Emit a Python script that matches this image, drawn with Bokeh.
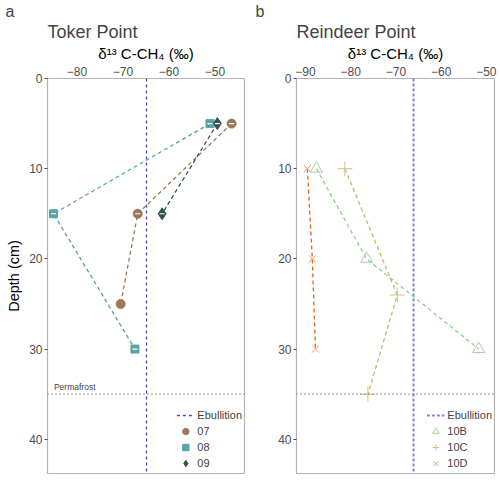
import numpy as np
from bokeh.plotting import figure
from bokeh.layouts import row
from bokeh.models import (Range1d, Span, Label, Title, Legend, LegendItem, FixedTicker)
from bokeh.embed import file_html
from bokeh.resources import INLINE

# ---------------- data ----------------
depth_07 = [5, 15, 25]
d13c_07 = [-46.4, -66.8, -70.5]
depth_08 = [5, 15, 30]
d13c_08 = [-51.1, -85.1, -67.4]
depth_09 = [5, 15]
d13c_09 = [-49.5, -61.5]

depth_10B = [10, 20, 30]
d13c_10B = [-87.6, -76.5, -51.7]
depth_10C = [10, 24, 35]
d13c_10C = [-81.3, -69.7, -76.2]
depth_10D = [10, 20, 30]
d13c_10D = [-89.6, -88.5, -87.8]

ebullition_a = [-65.0]
ebullition_b = [-66.1]
permafrost_depth = 35

xticks_a = [-80, -70, -60, -50]
xticks_b = [-90, -80, -70, -60, -50]
yticks = [0, 10, 20, 30, 40]

FONT = "Liberation Sans"
XLABEL = "δ¹³ C-CH₄ (‰)"
HEIGHT = 481


def base_fig(width, xr, xticks, border_left, border_right, title, letter, ylabel):
    p = figure(width=width, height=HEIGHT, output_backend="svg", toolbar_location=None,
               x_range=Range1d(*xr), y_range=Range1d(43.8, 0),
               x_axis_location="above",
               min_border_left=border_left, min_border_right=border_right,
               min_border_top=78, min_border_bottom=8)
    p.grid.visible = False
    p.outline_line_color = "#B3B3B3"
    p.outline_line_width = 1.2
    p.background_fill_color = "white"
    p.border_fill_color = "white"
    for ax in (p.xaxis[0], p.yaxis[0]):
        ax.axis_line_color = None
        ax.minor_tick_line_color = None
        ax.major_label_text_color = "#4D4D4D"
        ax.major_label_text_font = FONT
        ax.major_label_text_font_size = "12px"
        ax.axis_label_text_font = FONT
        ax.axis_label_text_font_style = "normal"
        ax.axis_label_text_color = "black"
        ax.axis_label_text_font_size = "14.5px"
        ax.major_label_standoff = 3
        ax.axis_label_standoff = 2
    p.xaxis.ticker = FixedTicker(ticks=xticks)
    p.xaxis.major_tick_line_color = None
    p.xaxis.major_tick_out = 0
    p.xaxis.major_tick_in = 0
    p.xaxis.axis_label = XLABEL
    p.xaxis.axis_label_text_font_size = "15px"
    p.yaxis.ticker = FixedTicker(ticks=yticks)
    p.yaxis.major_tick_line_color = "#4D4D4D"
    p.yaxis.major_tick_out = 3
    p.yaxis.major_tick_in = 0
    p.yaxis.major_label_standoff = 2
    if ylabel:
        p.yaxis.axis_label = ylabel
        p.yaxis.axis_label_standoff = 4
    # outer line: panel letter
    p.title.text = letter
    p.title.text_font = FONT
    p.title.text_font_size = "16px"
    p.title.text_font_style = "normal"
    p.title.align = "left"
    p.title.offset = -(border_left - 5)
    p.title.standoff = 0
    # inner line: site title
    t = Title(text=title, text_font=FONT, text_font_size="18px", text_font_style="normal",
              align="left", standoff=0)
    p.add_layout(t, "above")
    p.add_layout(Span(location=permafrost_depth, dimension="width", line_color="#555555",
                      line_dash="1 3", line_width=1.2))
    return p


def style_legend(p, items):
    leg = Legend(items=items, location="bottom_right")
    leg.background_fill_alpha = 0
    leg.border_line_color = None
    leg.label_text_font = FONT
    leg.label_text_font_size = "11px"
    leg.label_height = 14
    leg.glyph_height = 16
    leg.glyph_width = 18
    leg.spacing = 0
    leg.padding = 0
    leg.margin = 2
    leg.label_standoff = 3
    p.add_layout(leg)


# ---------------- panel a ----------------
pa = base_fig(250, (-86.4, -43.6), xticks_a, 47, 6, "Toker Point", "a", "Depth (cm)")
eb_a = pa.vspan(x=ebullition_a, line_color="#4646C4", line_dash="3 3", line_width=1.3)

c07, c08, c09 = "#9C7A55", "#5BA4A6", "#2E5454"
pa.line(d13c_07, depth_07, line_color=c07, line_dash="4 3", line_width=1.3)
pa.line(d13c_08, depth_08, line_color=c08, line_dash="4 3", line_width=1.3)
pa.line(d13c_09, depth_09, line_color=c09, line_dash="4 3", line_width=1.3)
r07 = pa.scatter(d13c_07, depth_07, marker="circle", size=9, fill_color=c07, line_color=c07)
r08 = pa.scatter(d13c_08, depth_08, marker="square", size=8, fill_color=c08, line_color=c08)
r09 = pa.scatter(d13c_09, depth_09, marker="diamond", size=12, fill_color=c09, line_color=c09)
# small white error-bar dashes on the points
pa.scatter(d13c_07[:2] + d13c_08 + d13c_09, depth_07[:2] + depth_08 + depth_09,
           marker="dash", size=5, line_color="white", line_width=1.2)
pa.add_layout(Label(x=-85.0, y=permafrost_depth, text="Permafrost", text_font=FONT,
                    text_font_size="8.5px", text_baseline="bottom", y_offset=2))
style_legend(pa, [LegendItem(label="Ebullition", renderers=[eb_a]),
                  LegendItem(label="07", renderers=[r07]),
                  LegendItem(label="08", renderers=[r08]),
                  LegendItem(label="09", renderers=[r09])])

# ---------------- panel b ----------------
pb = base_fig(250, (-92.0, -48.2), xticks_b, 46, 6, "Reindeer Point", "b", None)
eb_b = pb.vspan(x=ebullition_b, line_color="#8585D6", line_dash="3 2", line_width=2)
cB, cC, cD = "#9FD89A", "#CFC27E", "#EE9A6A"
lB, lC, lD = "#8FD08A", "#C8B860", "#E0661E"
pb.line(d13c_10B, depth_10B, line_color=lB, line_dash="4 3", line_width=1.3)
pb.line(d13c_10C, depth_10C, line_color=lC, line_dash="4 3", line_width=1.3)
pb.line(d13c_10D, depth_10D, line_color=lD, line_dash="4 3", line_width=1.3)
rB = pb.scatter(d13c_10B, depth_10B, marker="triangle", size=12, fill_color=None,
                line_color=cB, line_width=1)
rC = pb.scatter(d13c_10C, depth_10C, marker="cross", size=15, line_color=cC, line_width=1)
rD = pb.scatter(d13c_10D, depth_10D, marker="x", size=10, line_color=cD, line_width=1)
style_legend(pb, [LegendItem(label="Ebullition", renderers=[eb_b]),
                  LegendItem(label="10B", renderers=[rB]),
                  LegendItem(label="10C", renderers=[rC]),
                  LegendItem(label="10D", renderers=[rD])])

layout = row(pa, pb)
open("out.html", "w").write(file_html(layout, INLINE))
